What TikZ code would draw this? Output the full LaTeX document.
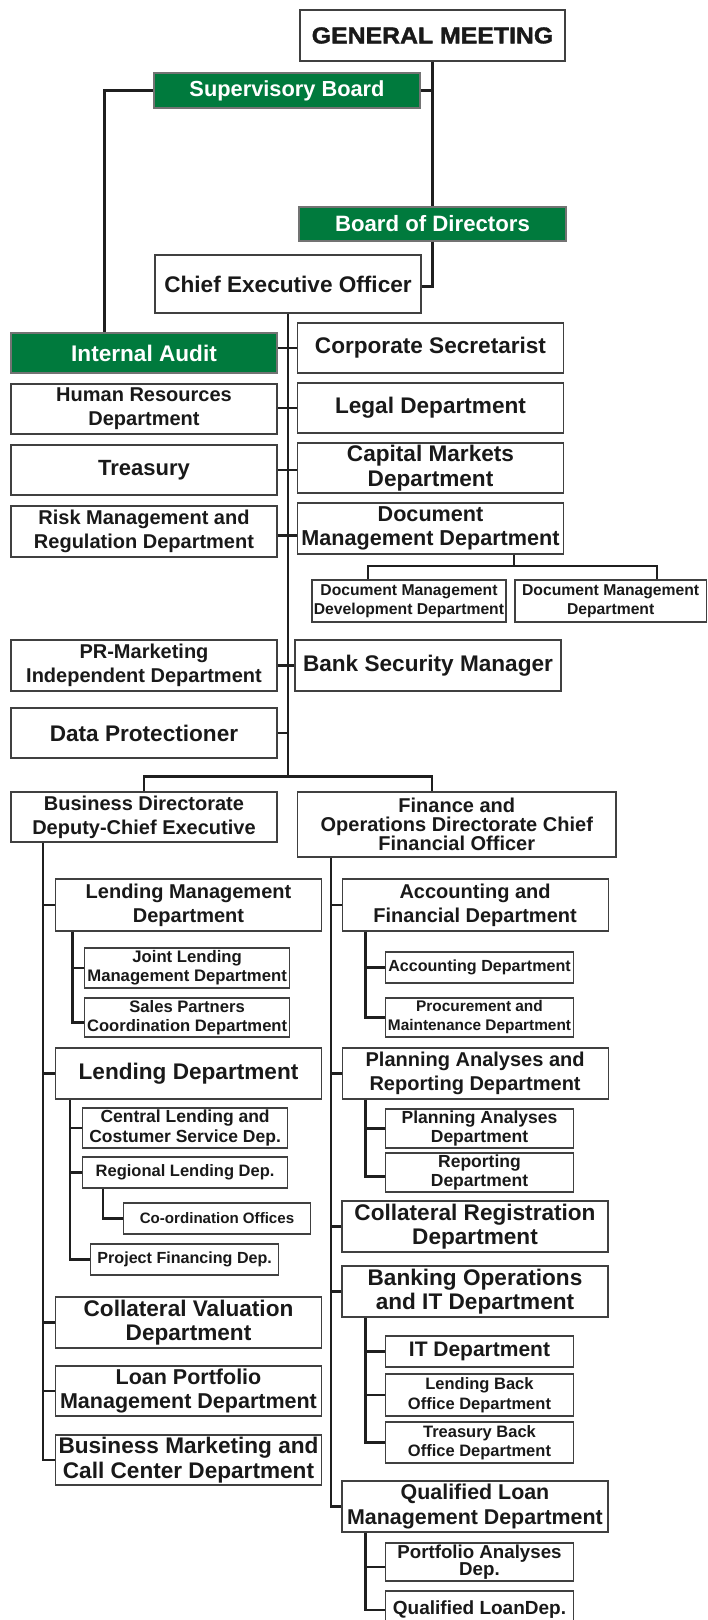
\documentclass[tikz,border=0pt]{standalone}
\usepackage{fontspec}
\setmainfont{Liberation Sans}
\newfontfamily\headfont[FakeStretch=1.08, FakeBold=1.6]{Liberation Sans}
\definecolor{boardgreen}{RGB}{0,122,61}
\newcommand{\fsize}[2]{\fontsize{#1}{#2}\selectfont\bfseries}

\begin{document}
\begin{tikzpicture}[x=1pt, y=-1pt,
block/.style={rectangle, draw=black!75, line width=1.2pt, fill=white, text=black!90,
align=center, inner sep=0pt, font=\fsize{22.6}{24.5}},
block-green/.style={block, fill=boardgreen, draw=black!55, text=white},
col/.style={minimum width=266pt, minimum height=50pt},
sub/.style={minimum width=188pt, minimum height=39pt, font=\fsize{16.5}{19.5}},
mid/.style={font=\fsize{20}{24}},
link/.style={draw=black!88, line width=2.6pt}
]
\useasboundingbox (0,0) rectangle (708,1620);
\clip (0,0) rectangle (708,1620);

\node[block, font={\headfont\fsize{23}{26}}, minimum width=265pt, minimum height=51pt] (gm) at (432.5,35.5) {GENERAL MEETING};
\node[block-green, minimum width=266pt, minimum height=35pt, font=\fsize{21.8}{24}] (sup) at (287,90.5) {Supervisory Board};
\node[block-green, minimum width=267pt, minimum height=34pt, font=\fsize{22.2}{24}] (bod) at (432.5,224) {Board of Directors};
\node[block, col, minimum height=58pt] (ceo) at (288,284) {Chief Executive Officer};

\node[block-green, col, minimum height=40pt] (audit) at (144,353) {Internal Audit};
\node[block, col] (corp) at (430.5,348) {Corporate Secretarist};
\node[block, col, mid] (hr) at (144,409) {Human Resources\\Department};
\node[block, col] (legal) at (430.5,408) {Legal Department};
\node[block, col, font=\fsize{22}{24}] (treas) at (144,470) {Treasury};
\node[block, col] (capm) at (430.5,468) {Capital Markets\\Department};
\node[block, col, mid, minimum height=51pt] (risk) at (144,531.5) {Risk Management and\\Regulation Department};
\node[block, col, minimum height=51pt, font=\fsize{21.6}{24.5}] (docm) at (430.5,528.5) {Document\\Management Department};
\node[block, sub, minimum width=194pt, minimum height=42pt, font=\fsize{15.7}{19}] (docdev) at (409,601) {Document Management\\Development Department};
\node[block, sub, minimum width=191.5pt, minimum height=42pt, font=\fsize{15.7}{19}] (docsub) at (610.7,601) {Document Management\\Department};
\node[block, col, mid, minimum height=51pt] (pr) at (144,665.5) {PR-Marketing\\Independent Department};
\node[block, col, minimum height=51pt] (bsec) at (428,665.5) {Bank Security Manager};
\node[block, col] (dpo) at (144,733) {Data Protectioner};

\node[block, col, mid] (bdir) at (144,817) {Business Directorate\\Deputy-Chief Executive};
\node[block, minimum width=318.5pt, minimum height=65pt, font=\fsize{20}{19}] (fod) at (456.8,824.5) {Finance and\\Operations Directorate Chief\\Financial Officer};

\node[block, col, mid, minimum height=52pt] (lmd) at (188.5,905) {Lending Management\\Department};
\node[block, sub, minimum width=205.4pt, minimum height=40pt, font=\fsize{16.7}{19}] (jlmd) at (187.1,968) {Joint Lending\\Management Department};
\node[block, sub, minimum width=205.4pt, font=\fsize{16.6}{19}] (spcd) at (187.1,1017.5) {Sales Partners\\Coordination Department};
\node[block, col, minimum height=51pt] (lend) at (188.5,1073.5) {Lending Department};
\node[block, sub, minimum width=205pt, minimum height=40pt, font=\fsize{17.5}{19.5}] (cls) at (185.1,1128) {Central Lending and\\Costumer Service Dep.};
\node[block, sub, minimum width=205pt, minimum height=31pt] (rld) at (185.1,1172.5) {Regional Lending Dep.};
\node[block, sub, minimum width=187.3pt, minimum height=31pt, font=\fsize{15.1}{18}] (coord) at (217,1218.5) {Co-ordination Offices};
\node[block, sub, minimum height=31pt, font=\fsize{16.1}{19}] (pfd) at (184.7,1259.5) {Project Financing Dep.};
\node[block, col, minimum height=51pt] (cvd) at (188.5,1322.5) {Collateral Valuation\\Department};
\node[block, col, font=\fsize{21.5}{24.5}] (lpmd) at (188.5,1391) {Loan Portfolio\\Management Department};
\node[block, col] (bmcc) at (188.5,1460) {Business Marketing and\\Call Center Department};

\node[block, col, mid, minimum height=52pt] (afd) at (475.1,905) {Accounting and\\Financial Department};
\node[block, sub, minimum height=31pt, font=\fsize{16.1}{19}] (accd) at (479.5,967.5) {Accounting Department};
\node[block, sub, font=\fsize{15.4}{19}] (pmd) at (479.5,1017.5) {Procurement and\\Maintenance Department};
\node[block, col, mid, minimum height=51pt] (pard) at (475.1,1073.5) {Planning Analyses and\\Reporting Department};
\node[block, sub, font=\fsize{17.5}{18.5}] (pad) at (479.5,1128.5) {Planning Analyses\\Department};
\node[block, sub, font=\fsize{17.5}{18.5}] (repd) at (479.5,1172.5) {Reporting\\Department};
\node[block, col, minimum height=51pt] (crd) at (475,1226.5) {Collateral Registration\\Department};
\node[block, col, minimum height=51pt] (boit) at (475,1291.5) {Banking Operations\\and IT Department};
\node[block, sub, minimum height=31pt, font=\fsize{21}{24}] (itd) at (479.5,1351.5) {IT Department};
\node[block, sub, minimum height=42pt] (lbo) at (479.5,1395) {Lending Back\\Office Department};
\node[block, sub, minimum height=41pt] (tbo) at (479.5,1442.5) {Treasury Back\\Office Department};
\node[block, col, minimum height=51pt, font=\fsize{21.4}{24.5}] (qlmd) at (475,1506.5) {Qualified Loan\\Management Department};
\node[block, sub, minimum height=38pt, font=\fsize{18.7}{17.5}] (pfa) at (479.5,1562) {Portfolio Analyses\\Dep.};
\node[block, sub, minimum height=38pt, font=\fsize{19}{22}] (qld) at (479.5,1610) {Qualified LoanDep.};

\coordinate (spine) at (288,776.7);
\coordinate (supL) at (104.7,90.5);
\coordinate (dmbus) at (513.8,566);
\coordinate (dmL) at (368,566);
\coordinate (dmR) at (657,566);
\coordinate (brL) at (144,776.7);
\coordinate (brR) at (432,776.7);
\coordinate (bdT) at (43,0);
\coordinate (fdT) at (331,0);
\coordinate (lmT) at (72.2,0);
\coordinate (ldT) at (70,0);
\coordinate (rlT) at (103,0);
\coordinate (fsT) at (365.7,0);

\draw[link] (gm.south) -- (bod.north);
\draw[link] (sup.east) -- (sup.east -| gm.south);
\draw[link] (sup.west) -- (supL) -- (supL |- audit.north);
\draw[link] (bod.south) |- ([yshift=-2.7pt]ceo.east);
\draw[link] (ceo.south) -- (spine);

\draw[link] (corp.west) -- (corp.west -| audit.east);
\draw[link] (legal.west) -- (legal.west -| hr.east);
\draw[link] (treas.east) -- (treas.east -| capm.west);
\draw[link] ([yshift=-4pt]risk.east) -- ([yshift=-4pt]risk.east -| docm.west);
\draw[link] (pr.east) -- (bsec.west);
\draw[link] (dpo.east) -- (dpo.east -| spine);

\draw[link] (docm.south -| dmbus) -- (dmbus);
\draw[link] (dmL |- docdev.north) -- (dmL) -- (dmR) -- (dmR |- docsub.north);

\draw[link] (brL |- bdir.north) -- (brL) -- (brR) -- (brR |- fod.north);

\draw[link] (bdir.south -| bdT) |- (bmcc.west);
\foreach \n in {lmd,lend,cvd,lpmd}
  \draw[link] (\n.west) -- (\n.west -| bdT);
\draw[link] (fod.south -| fdT) |- (qlmd.west);
\foreach \n in {afd,pard,crd,boit}
  \draw[link] (\n.west) -- (\n.west -| fdT);

\draw[link] (lmd.south -| lmT) |- ([yshift=-5pt]spcd.west);
\draw[link] (jlmd.west) -- (jlmd.west -| lmT);
\draw[link] (lend.south -| ldT) |- (pfd.west);
\foreach \n in {cls,rld}
  \draw[link] (\n.west) -- (\n.west -| ldT);
\draw[link] (rld.south -| rlT) |- (coord.west);

\draw[link] (afd.south -| fsT) |- (pmd.west);
\draw[link] (accd.west) -- (accd.west -| fsT);
\draw[link] (pard.south -| fsT) |- ([yshift=-4pt]repd.west);
\draw[link] (pad.west) -- (pad.west -| fsT);
\draw[link] (boit.south -| fsT) |- (tbo.west);
\foreach \n in {itd,lbo}
  \draw[link] (\n.west) -- (\n.west -| fsT);
\draw[link] (qlmd.south -| fsT) |- (qld.west);
\draw[link] ([yshift=-5pt]pfa.west) -- ([yshift=-5pt]pfa.west -| fsT);
\end{tikzpicture}
\end{document}
